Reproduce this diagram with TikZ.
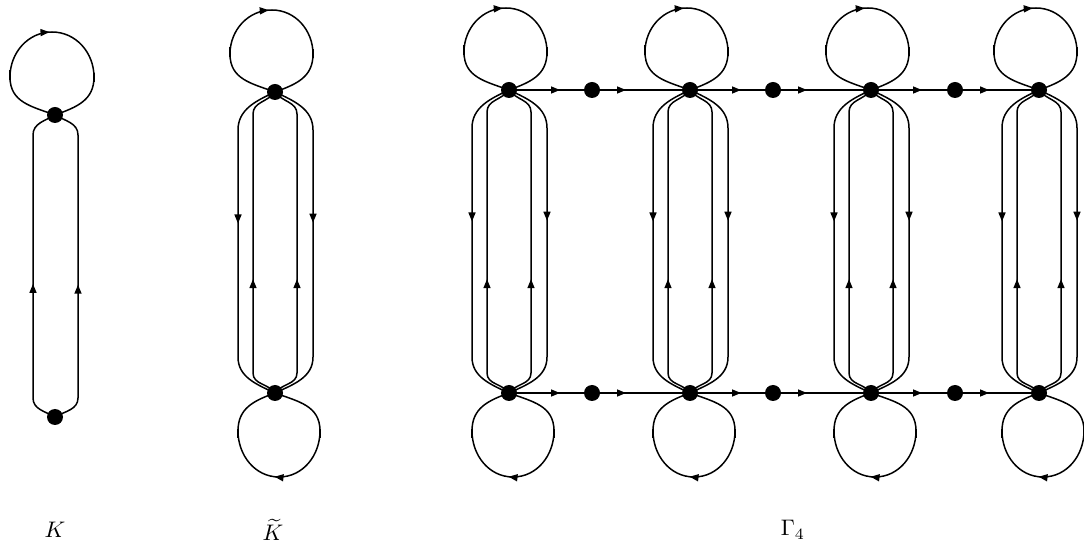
\documentclass[tikz,border=0pt]{standalone}
\usetikzlibrary{arrows.meta,decorations.markings}
\tikzset{
  x=1pt,y=1pt,
  vtx/.style={circle,fill=black,inner sep=0pt,minimum size=16pt},
  ln/.style={line width=1.5pt},
  mk/.style={postaction={decorate},decoration={markings,mark=at position #1 with {\arrow{Triangle[length=9pt,width=7pt]}}}},
  tickmark/.style={line width=2.6pt},
  lbl/.style={scale=2.25,transform shape},
}
\begin{document}
\begin{tikzpicture}
\useasboundingbox (0,0) rectangle (1084,546);
% ---------- K ----------
\node[vtx] (kt) at (55,431) {};
\node[vtx] (kb) at (55,129) {};
\draw[ln, mk=0.5] (kt.center) to[out=160,in=-90,looseness=1.1] (10,469) to[out=90,in=180] (52,514)
   to[out=0,in=90] (94,469) to[out=-90,in=20,looseness=1.1] (kt.center);
\draw[tickmark] (10,466) -- (10,476);
\draw[tickmark] (94,464) -- (94,473);
\draw[ln, mk=145pt] (kb.center) to[out=150,in=-90] (33,148) -- (33,411) to[out=90,in=210] (kt.center);
\draw[ln, mk=145pt] (kb.center) to[out=30,in=-90] (78,148) -- (78,411) to[out=90,in=-30] (kt.center);
\node[lbl] (lK) at (55,16) {$K$};
% ---------- columns of K~ and Gamma_4 ----------
\foreach \i/\vx/\vt in {0/275/454,1/509/456,2/690/456,3/871/456,4/1039/456}{
  \pgfmathsetmacro{\vb}{153}
  \node[vtx] (t\i) at (\vx,\vt) {};
  \node[vtx] (b\i) at (\vx,\vb) {};
  % top loop
  \draw[ln, mk=0.5] (t\i.center) to[out=160,in=-90,looseness=1.1] (\vx-45,\vt+38) to[out=90,in=180] (\vx-3,\vt+82)
     to[out=0,in=90] (\vx+38,\vt+38) to[out=-90,in=20,looseness=1.1] (t\i.center);
  \draw[tickmark] (\vx-45,\vt+35) -- (\vx-45,\vt+45);
  \draw[tickmark] (\vx+38,\vt+34) -- (\vx+38,\vt+43);
  % bottom loop
  \draw[ln, mk=0.53] (b\i.center) to[out=-20,in=90,looseness=1.1] (\vx+45,\vb-38) to[out=-90,in=0] (\vx+4,\vb-84)
     to[out=180,in=-90] (\vx-37,\vb-38) to[out=90,in=200,looseness=1.1] (b\i.center);
  \draw[tickmark] (\vx-37,\vb-36) -- (\vx-37,\vb-45);
  \draw[tickmark] (\vx+45,\vb-36) -- (\vx+45,\vb-45);
  % outer lines (downwards)
  \draw[ln, mk=150pt] (t\i.center) to[out=205,in=90] (\vx-37,\vt-38) -- (\vx-37,\vb+36) to[out=-90,in=155] (b\i.center);
  \draw[ln, mk=150pt] (t\i.center) to[out=-25,in=90] (\vx+38,\vt-38) -- (\vx+38,\vb+36) to[out=-90,in=25] (b\i.center);
  % inner lines (upwards)
  \draw[ln, mk=125pt] (b\i.center) to[out=125,in=-90] (\vx-22,\vb+20) -- (\vx-22,\vt-22) to[out=90,in=235] (t\i.center);
  \draw[ln, mk=125pt] (b\i.center) to[out=55,in=-90] (\vx+22,\vb+20) -- (\vx+22,\vt-22) to[out=90,in=-55] (t\i.center);
}
\node[lbl] (lKt) at (273,16) {$\widetilde{K}$};
% ---------- horizontal chains ----------
\foreach \j/\mx in {1/592,2/773,3/955}{
  \node[vtx] (mt\j) at (\mx,456) {};
  \node[vtx] (mb\j) at (\mx,153) {};
}
\foreach \a/\m/\c in {1/1/2,2/2/3,3/3/4}{
  \draw[ln, mk=51pt] (t\a.center) -- (mt\m.center);
  \draw[ln, mk=34pt] (mt\m.center) -- (t\c.center);
  \draw[ln, mk=51pt] (b\a.center) -- (mb\m.center);
  \draw[ln, mk=34pt] (mb\m.center) -- (b\c.center);
}
\node[lbl] (lG) at (793,16) {$\Gamma_4$};
\end{tikzpicture}
\end{document}
